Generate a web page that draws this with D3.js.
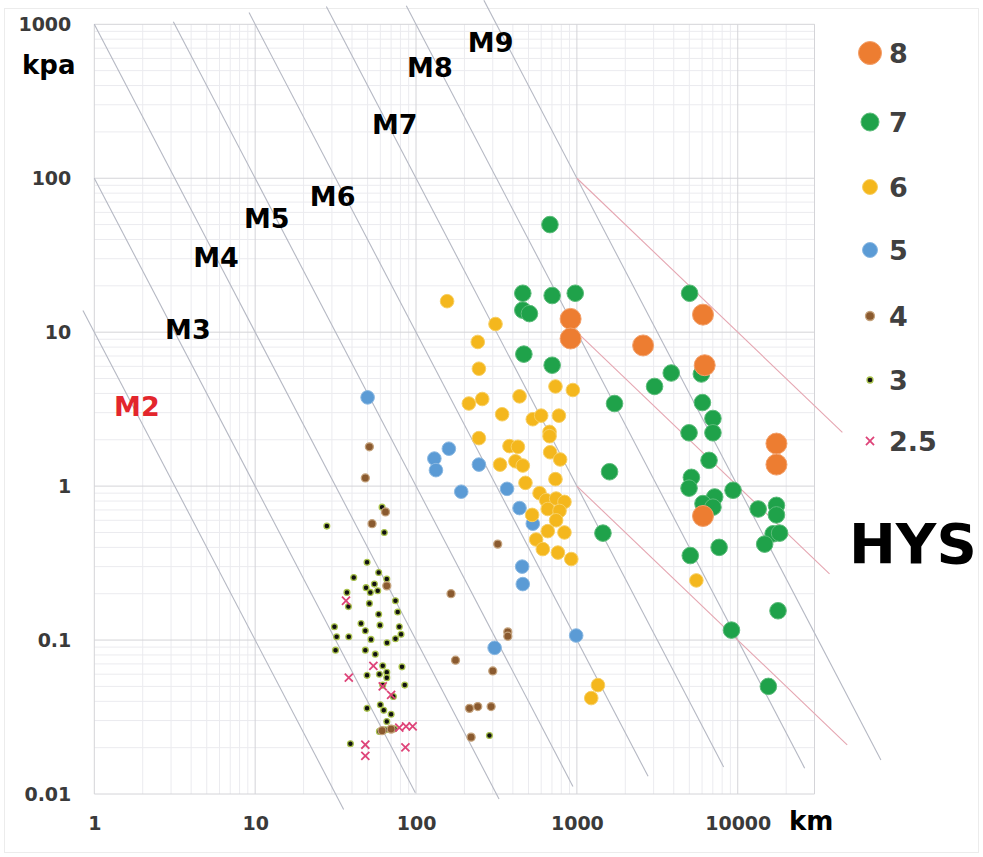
<!DOCTYPE html>
<html>
<head>
<meta charset="utf-8">
<script src="https://cdn.jsdelivr.net/npm/d3@7"></script>
<style>
  html, body { margin: 0; padding: 0; background: #ffffff; }
  svg { display: block; }
  text { font-family: "DejaVu Sans", "Liberation Sans", Arial, sans-serif; font-weight: bold; }
</style>
</head>
<body>
<svg id="chart" width="983" height="857"></svg>
<script>
// ---- axis ticks ----
const xTicks = [1, 10, 100, 1000, 10000];
const yTicks = [0.01, 0.1, 1, 10, 100, 1000];

// ---- observations: [distance km, overpressure kpa] by magnitude class ----
const mag8 = [[914,12.2],[914,9.1],[2580,8.2],[6080,13.0],[6230,6.1],[17400,1.89],[17400,1.38],[6080,0.64]];

const mag7 = [[680,50],[461,17.9],[702,17.3],[977,17.9],[461,13.9],[507,13.2],[468,7.2],[702,6.1],
  [1714,3.44],[1596,1.24],[1452,0.495],[5020,17.9],[3860,5.43],[3040,4.44],[5940,5.35],[6030,3.49],
  [7010,2.75],[7010,2.22],[4980,2.22],[6630,1.47],[5150,1.14],[4980,0.97],[7190,0.85],[6080,0.77],
  [7010,0.73],[9350,0.94],[13400,0.71],[17400,0.75],[17400,0.65],[16600,0.49],[18200,0.495],
  [14700,0.42],[7660,0.40],[5070,0.354],[17800,0.155],[9140,0.116],[15500,0.050]];

const mag6 = [[156,15.9],[312,11.3],[242,8.64],[246,5.79],[213,3.44],[258,3.68],[343,2.93],[440,3.83],
  [736,4.44],[944,4.21],[532,2.72],[600,2.87],[773,2.87],[676,2.25],[676,2.11],[246,2.05],[381,1.82],
  [430,1.80],[682,1.66],[787,1.49],[333,1.38],[415,1.45],[461,1.36],[479,1.05],[736,1.11],[586,0.90],
  [644,0.81],[743,0.83],[837,0.79],[659,0.71],[780,0.69],[527,0.65],[743,0.60],[659,0.51],[837,0.50],
  [558,0.45],[614,0.39],[762,0.37],[923,0.336],[5530,0.244],[1352,0.051],[1228,0.042]];

const mag5 = [[160,1.75],[130,1.51],[133,1.27],[246,1.38],[191,0.92],[368,0.96],[440,0.72],[532,0.57],
  [457,0.30],[461,0.231],[308,0.089],[990,0.107],[50,3.77]];

const mag4 = [[51.3,1.80],[48.4,1.13],[64.6,0.68],[53.3,0.57],[65.8,0.225],[322,0.42],[165,0.20],
  [372,0.113],[372,0.106],[176,0.074],[300,0.063],[215,0.036],[242,0.037],[293,0.037],[220,0.0234],
  [61.5,0.0258],[70,0.0264]];

const mag3 = [[27.9,0.55],[61.5,0.73],[63.5,0.50],[49.6,0.32],[58.6,0.275],[41,0.255],[65.8,0.249],
  [48.9,0.219],[55.1,0.231],[57.8,0.209],[37.2,0.204],[52,0.204],[38,0.165],[51.3,0.173],[74.5,0.18],
  [58.6,0.147],[76.9,0.152],[45.5,0.128],[59.7,0.125],[31.1,0.122],[78.7,0.122],[48.4,0.115],
  [32.1,0.105],[38.2,0.105],[80.7,0.109],[52.5,0.101],[74.5,0.102],[66,0.096],[31.6,0.086],[48.4,0.086],
  [55.8,0.081],[81.8,0.067],[62.1,0.068],[49.6,0.059],[59.2,0.060],[65.8,0.0618],[65.8,0.057],
  [62.1,0.051],[85.1,0.051],[72.3,0.043],[49.6,0.036],[60,0.038],[63,0.035],[70,0.033],[65.8,0.0296],
  [59.2,0.0255],[64.6,0.0261],[73.3,0.0265],[39.1,0.0212],[286,0.024]];

const mag25 = [[36.7,0.18],[38.2,0.057],[54.3,0.068],[62.1,0.050],[70,0.044],[78.7,0.027],[86.7,0.0275],
  [95.3,0.0275],[48.4,0.0209],[48.4,0.0177],[85.9,0.0201]];

// ---- reference curves ----
// magnitude lines: p = 10^k / r^2 drawn between r0 and r1
const magLines = [
  {k: 1, r0: 0.85, r1: 35.5},
  {k: 2, r0: 1,    r1: 99},
  {k: 3, r0: 1,    r1: 328},
  {k: 4, r0: 3.1,  r1: 945},
  {k: 5, r0: 9.16, r1: 2770},
  {k: 6, r0: 27.7, r1: 8170},
  {k: 7, r0: 87,   r1: 26060},
  {k: 8, r0: 264,  r1: 77600}
];
// attenuation lines: p = c / r
const attenLines = [
  {c: 1e5, r0: 1000, r1: 44700},
  {c: 1e4, r0: 1000, r1: 37200},
  {c: 1e3, r0: 1000, r1: 47900}
];

// magnitude labels [text, r, p]
const magLabels = [["M9",291,760],["M8",122,523],["M7",73.8,223],["M6",30.3,76],
  ["M5",11.8,54.7],["M4",5.71,30.5],["M3",3.82,10.4],["M2",1.84,3.29]];

// legend entries
const legendNames = ["8","7","6","5","4","3","2.5"];

// ---- drawing ----
const svg = d3.select("#chart");
const x = d3.scaleLog().domain([1, 30000]).range([94.3, 814.5]);
const y = d3.scaleLog().domain([0.01, 1000]).range([794, 24.3]);

// outer frame
svg.append("rect").attr("x", 4.5).attr("y", 8.5).attr("width", 974).attr("height", 844)
  .attr("fill", "none").attr("stroke", "#ececec");

// minor grid
const xMinor = [], yMinor = [];
for (let d = 1; d <= 10000; d *= 10) for (let m = 2; m <= 9; m++) if (m * d <= 30000) xMinor.push(m * d);
for (let d = 0.01; d < 1000; d *= 10) for (let m = 2; m <= 9; m++) yMinor.push(+(m * d).toPrecision(3));

const grid = svg.append("g");
grid.selectAll(".xm").data(xMinor).join("line")
  .attr("x1", d => x(d)).attr("x2", d => x(d)).attr("y1", y(0.01)).attr("y2", y(1000))
  .attr("stroke", "#ebebef").attr("stroke-width", 1);
grid.selectAll(".ym").data(yMinor).join("line")
  .attr("x1", x(1)).attr("x2", x(30000)).attr("y1", d => y(d)).attr("y2", d => y(d))
  .attr("stroke", "#ebebef").attr("stroke-width", 1);
grid.selectAll(".xM").data(xTicks.concat([30000])).join("line")
  .attr("x1", d => x(d)).attr("x2", d => x(d)).attr("y1", y(0.01)).attr("y2", y(1000))
  .attr("stroke", "#d4d4d8").attr("stroke-width", 1);
grid.selectAll(".yM").data(yTicks).join("line")
  .attr("x1", x(1)).attr("x2", x(30000)).attr("y1", d => y(d)).attr("y2", d => y(d))
  .attr("stroke", "#d4d4d8").attr("stroke-width", 1);

// axes (labels only)
const fmt = d3.format("~g");
const yAxis = svg.append("g").attr("transform", `translate(${x(1) - 23},0)`)
  .call(d3.axisLeft(y).tickValues(yTicks).tickFormat(fmt).tickSize(0).tickPadding(0));
yAxis.select(".domain").remove();
yAxis.selectAll("text").attr("font-size", 19).attr("fill", "#3a3a3a")
  .attr("font-family", "DejaVu Sans").attr("font-weight", "bold");

const xAxis = svg.append("g").attr("transform", `translate(0,${y(0.01) + 22})`)
  .call(d3.axisBottom(x).tickValues(xTicks).tickFormat(fmt).tickSize(0).tickPadding(0));
xAxis.select(".domain").remove();
xAxis.selectAll("text").attr("font-size", 19).attr("fill", "#3a3a3a")
  .attr("font-family", "DejaVu Sans").attr("font-weight", "bold");

// reference lines
const line = d3.line().x(d => x(d[0])).y(d => y(d[1]));
svg.append("g").selectAll("path").data(magLines).join("path")
  .attr("d", d => line([[d.r0, Math.pow(10, d.k) / (d.r0 * d.r0)], [d.r1, Math.pow(10, d.k) / (d.r1 * d.r1)]]))
  .attr("fill", "none").attr("stroke", "#b5b8c3").attr("stroke-width", 1.1);
svg.append("g").selectAll("path").data(attenLines).join("path")
  .attr("d", d => line([[d.r0, d.c / d.r0], [d.r1, d.c / d.r1]]))
  .attr("fill", "none").attr("stroke", "#e5a6b1").attr("stroke-width", 1.1);

// magnitude labels
svg.append("g").selectAll("text").data(magLabels).join("text")
  .attr("x", d => x(d[1])).attr("y", d => y(d[2])).attr("dy", "0.36em")
  .attr("text-anchor", "middle").attr("font-size", 27)
  .attr("fill", d => d[0] === "M2" ? "#e3262d" : "#000")
  .text(d => d[0]);

// markers
const styles = [
  {data: mag8, r: 10.5, fill: "#ED7D31", stroke: "#f3a06a", sw: 1},
  {data: mag7, r: 8.3,  fill: "#1FA24A", stroke: "#5cbc7a", sw: 1},
  {data: mag6, r: 6.8,  fill: "#F4B71D", stroke: "#f8cf62", sw: 1},
  {data: mag5, r: 6.8,  fill: "#5B9BD5", stroke: "#8ab8e2", sw: 1},
  {data: mag4, r: 4.0,  fill: "#8a5a2f", stroke: "#c4a27c", sw: 1.3},
  {data: mag3, r: 2.9,  fill: "#111111", stroke: "#a9c24c", sw: 1.3}
];
const pts = svg.append("g");
// smaller classes first so the large markers sit on top
styles.slice().reverse().forEach(s => {
  pts.append("g").selectAll("circle").data(s.data).join("circle")
    .attr("cx", d => x(d[0])).attr("cy", d => y(d[1])).attr("r", s.r)
    .attr("fill", s.fill).attr("stroke", s.stroke).attr("stroke-width", s.sw);
});
const xSym = d3.symbol().type(d3.symbolX).size(44);
pts.append("g").selectAll("path").data(mag25).join("path")
  .attr("transform", d => `translate(${x(d[0])},${y(d[1])})`)
  .attr("d", xSym).attr("fill", "none").attr("stroke", "#de4479").attr("stroke-width", 1.8);

// legend
const legendY = [53, 122, 187, 250, 316, 380, 441];
const lg = svg.append("g");
legendNames.forEach((name, i) => {
  const cy = legendY[i];
  if (i < 6) {
    const s = styles[i];
    const lr = [11.5, 9, 7.5, 7.5, 4.5, 3][i];
    lg.append("circle").attr("cx", 870).attr("cy", cy).attr("r", lr)
      .attr("fill", s.fill).attr("stroke", s.stroke).attr("stroke-width", s.sw);
  } else {
    lg.append("path").attr("transform", `translate(870,${cy})`).attr("d", xSym)
      .attr("fill", "none").attr("stroke", "#de4479").attr("stroke-width", 1.8);
  }
  lg.append("text").attr("x", 889).attr("y", cy).attr("dy", "0.36em")
    .attr("font-size", 27).attr("fill", "#404040").text(name);
});

// axis titles and tag
svg.append("text").attr("x", 22).attr("y", 74).attr("font-size", 26).attr("fill", "#000").text("kpa");
svg.append("text").attr("x", 789).attr("y", 830).attr("font-size", 26).attr("fill", "#000").text("km");
svg.append("text").attr("x", 849).attr("y", 563).attr("font-size", 56).attr("fill", "#000").text("HYS");
</script>
</body>
</html>
